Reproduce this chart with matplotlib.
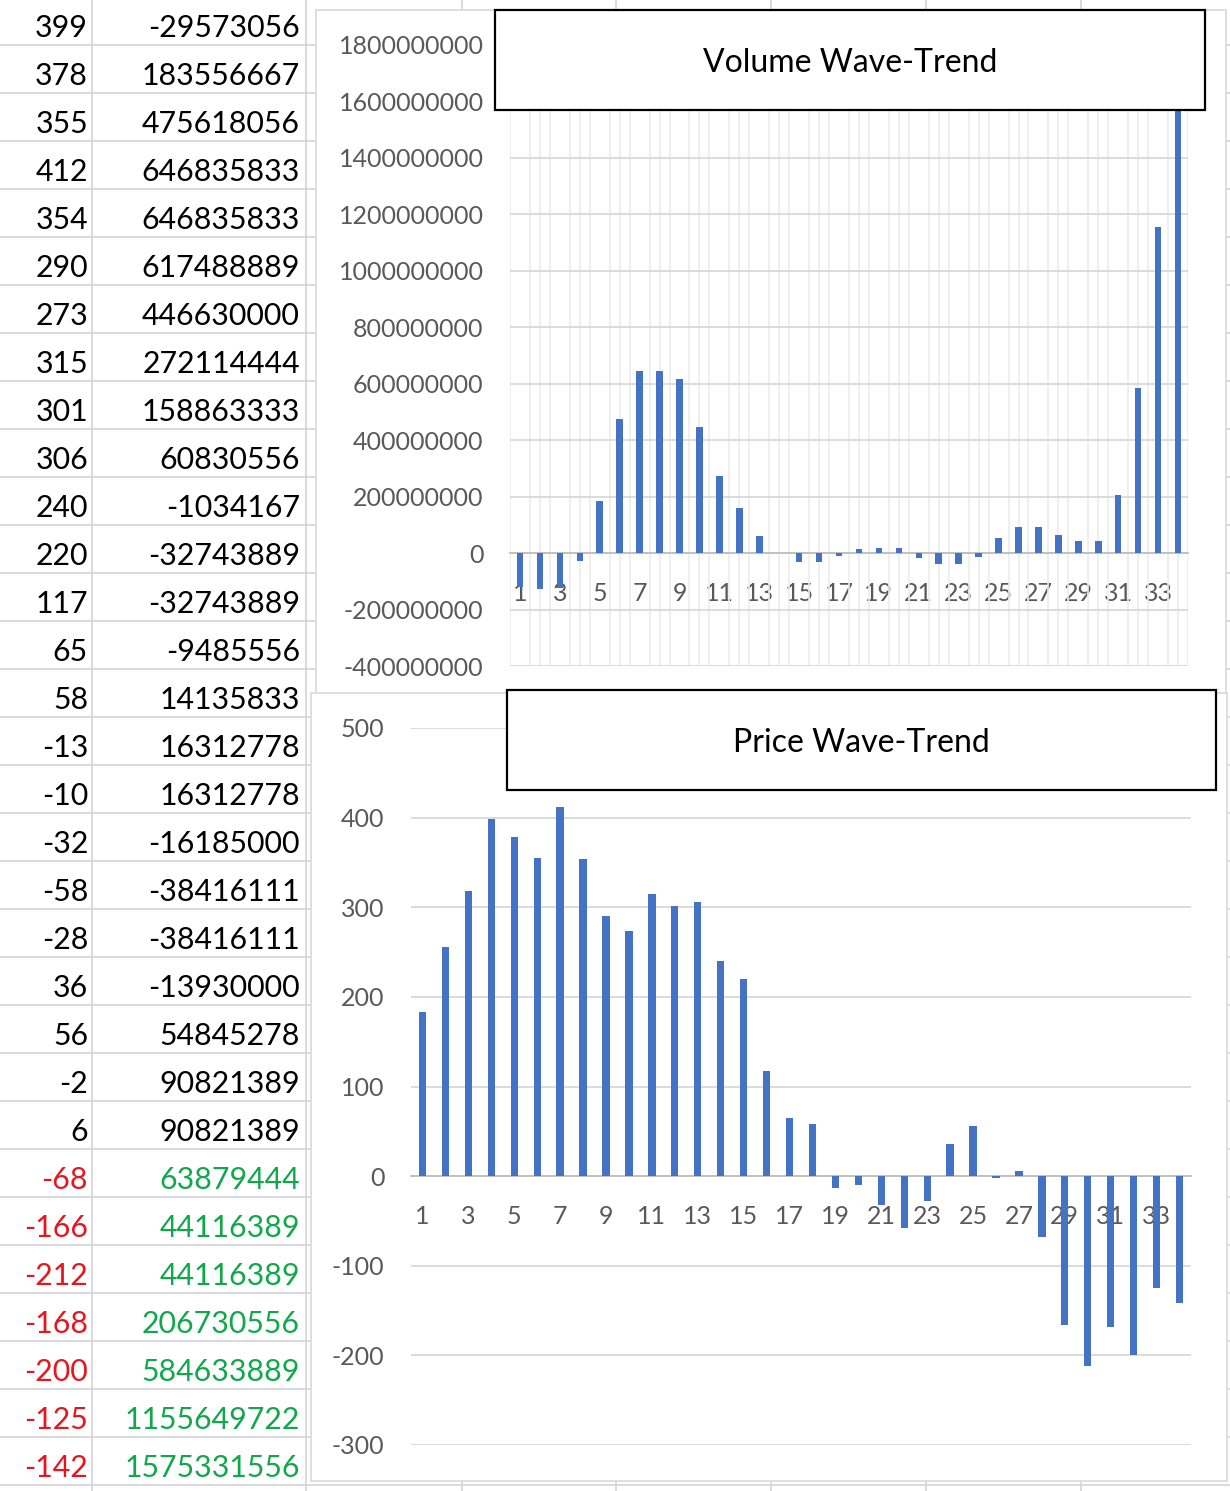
import numpy as np
import matplotlib
matplotlib.use("Agg")
import matplotlib.pyplot as plt
from matplotlib.patches import Rectangle
from matplotlib.lines import Line2D

# data: bars 1..34 (first three rows of the sheet are scrolled out of view)
periods = list(range(1, 35))
price = [183, 256, 318, 399, 378, 355, 412, 354, 290, 273, 315, 301, 306, 240,
         220, 117, 65, 58, -13, -10, -32, -58, -28, 36, 56, -2, 6, -68, -166,
         -212, -168, -200, -125, -142]
volume = [-120000000, -127000000, -122000000, -29573056, 183556667, 475618056,
          646835833, 646835833, 617488889, 446630000, 272114444, 158863333,
          60830556, -1034167, -32743889, -32743889, -9485556, 14135833,
          16312778, 16312778, -16185000, -38416111, -38416111, -13930000,
          54845278, 90821389, 90821389, 63879444, 44116389, 44116389,
          206730556, 584633889, 1155649722, 1575331556]
first_row = 3  # sheet shows rows from bar 4 onward
vol_ticks = [-400000000, -200000000, 0, 200000000, 400000000, 600000000,
             800000000, 1000000000, 1200000000, 1400000000, 1600000000, 1800000000]
price_ticks = [-300, -200, -100, 0, 100, 200, 300, 400, 500]

W, H = 1230, 1491
plt.rcParams['font.family'] = ['Lato', 'DejaVu Sans']
fig = plt.figure(figsize=(W / 100, H / 100), dpi=100)

def fx(x):
    return x / W

def fy(y):
    return 1 - y / H

def box(x0, y0, x1, y1):
    return [fx(x0), fy(y1), fx(x1) - fx(x0), fy(y0) - fy(y1)]

bar_col = '#4472C4'
grid_col = '#d9d9d9'
tick_col = '#595959'
cell_col = '#d4d4d4'

# spreadsheet cell grid
for k in range(-1, 31):
    y = 45 + 48 * k
    fig.add_artist(Line2D([0, 1], [fy(y), fy(y)], color=cell_col, lw=1.2, zorder=-3))
for x in [92, 306, 462, 616, 771, 926, 1081]:
    fig.add_artist(Line2D([fx(x), fx(x)], [0, 1], color=cell_col, lw=1.2, zorder=-3))

# table values
for i in range(first_row, len(periods)):
    yb = fy(37 + 48 * (i - first_row))
    neg = i >= 27
    fig.text(fx(88), yb, str(price[i]), ha='right', va='baseline', fontsize=21.8,
             color='#e8141e' if neg else 'black')
    fig.text(fx(300), yb, str(volume[i]), ha='right', va='baseline', fontsize=21.8,
             color='#10a84a' if neg else 'black')

# chart areas
fig.add_artist(Rectangle((fx(316), fy(703)), fx(1226) - fx(316), fy(10) - fy(703),
                         transform=fig.transFigure, facecolor='white',
                         edgecolor=grid_col, lw=1.2, zorder=-2))
fig.add_artist(Rectangle((fx(311), fy(1481)), fx(1227) - fx(311), fy(693) - fy(1481),
                         transform=fig.transFigure, facecolor='white',
                         edgecolor=grid_col, lw=1.2, zorder=-1))

def style(ax, ticks, labels, ypad):
    ax.set_facecolor('none')
    for s in ['top', 'right', 'left']:
        ax.spines[s].set_visible(False)
    ax.spines['bottom'].set_position(('data', 0))
    ax.spines['bottom'].set_color('#bfbfbf')
    ax.spines['bottom'].set_linewidth(1.3)
    ax.set_yticks(ticks)
    ax.set_yticklabels(labels)
    ax.set_xticks(periods[::2])
    ax.set_xticklabels([str(p) for p in periods[::2]])
    ax.tick_params(axis='both', which='both', length=0, labelsize=18, labelcolor=tick_col)
    ax.tick_params(axis='y', pad=ypad)
    ax.tick_params(axis='x', pad=21)
    ax.grid(axis='y', color=grid_col, lw=1.3)
    ax.set_axisbelow(True)
    ax.set_xlim(0.5, 34.5)

# volume chart
ax1 = fig.add_axes(box(510, 45, 1188, 666))
ax1.bar(periods, volume, width=0.33, color=bar_col, zorder=3)
style(ax1, vol_ticks, [str(v) for v in vol_ticks], 19)
ax1.set_ylim(vol_ticks[0], vol_ticks[-1])
ax1.set_xticks(np.arange(0.5, 34.6, 0.5), minor=True)
ax1.grid(axis='x', which='minor', color='#ececec', lw=1.2)

# price chart
ax2 = fig.add_axes(box(411, 728, 1191, 1445))
ax2.bar(periods, price, width=0.32, color=bar_col, zorder=3)
style(ax2, price_ticks, [str(v) for v in price_ticks], 19)
ax2.set_ylim(price_ticks[0], price_ticks[-1])

# title boxes
for (x0, y0, x1, y1), title in [((495, 10, 1205, 110), 'Volume Wave-Trend'),
                                ((507, 690, 1216, 790), 'Price Wave-Trend')]:
    fig.add_artist(Rectangle((fx(x0), fy(y1)), fx(x1) - fx(x0), fy(y0) - fy(y1),
                             transform=fig.transFigure, facecolor='white',
                             edgecolor='black', lw=1.6, zorder=5))
    fig.text(fx((x0 + x1) / 2), fy((y0 + y1) / 2 + 3), title, ha='center', va='center',
             fontsize=23, color='black', zorder=6)

fig.savefig('out.png', dpi=100)
